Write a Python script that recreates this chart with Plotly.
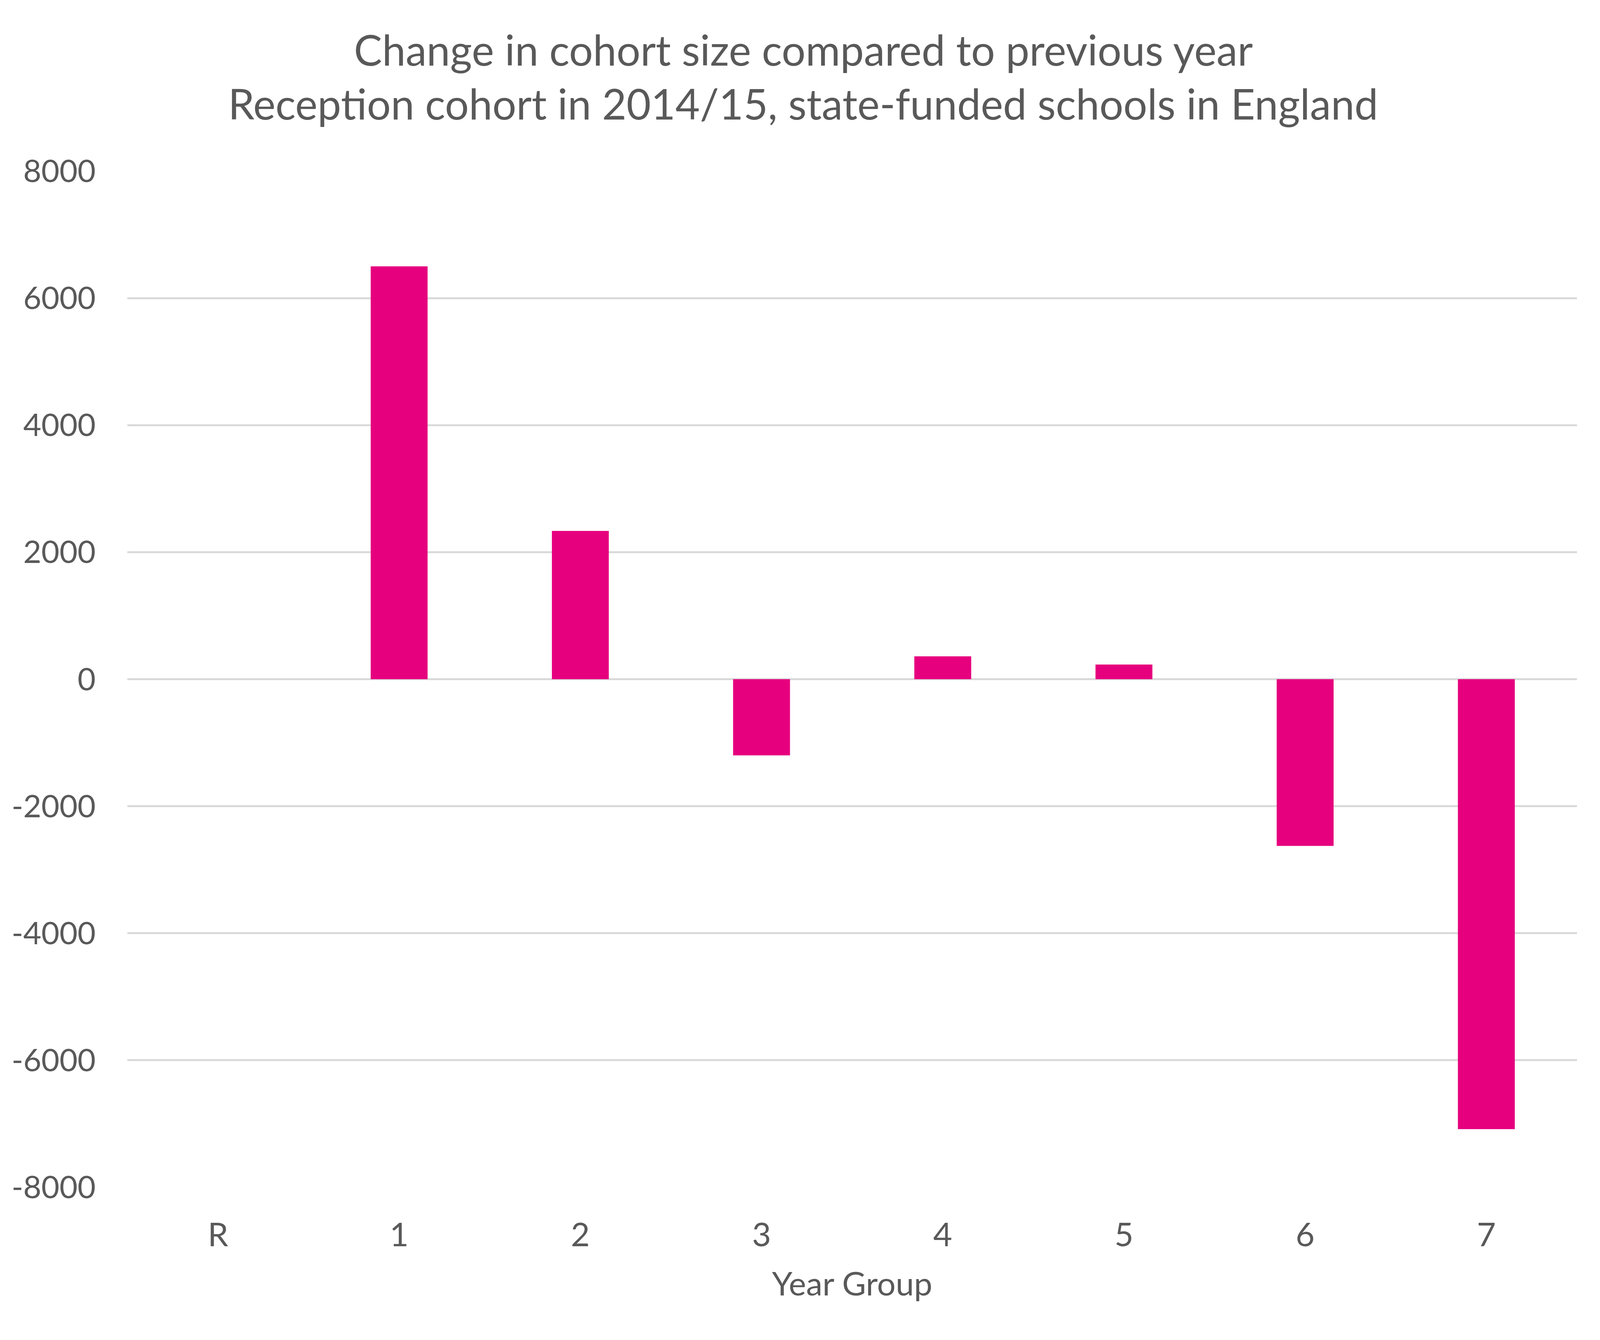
import plotly.graph_objects as go

# data
year_groups = ["R", "1", "2", "3", "4", "5", "6", "7"]
cohort_change = [0, 6500, 2335, -1200, 360, 230, -2625, -7085]
y_ticks = [8000, 6000, 4000, 2000, 0, -2000, -4000, -6000, -8000]
y_tick_labels = ["8000", "6000", "4000", "2000", "0", "-2000", "-4000", "-6000", "-8000"]
title_lines = [
    "Change in cohort size compared to previous year",
    "Reception cohort in 2014/15, state-funded schools in England",
]

# the browser viewport is 4096 wide, so the page is laid out at that width
W, H = 4096, 3430
ML, MR, MT, MB = 318, 67, 430, 399
text_grey = "#595959"
font_name = "Lato"

fig = go.Figure(go.Bar(
    x=year_groups,
    y=cohort_change,
    marker=dict(color="#E6007E", line=dict(width=0)),
    width=0.314,
))

fig.update_layout(
    width=W,
    height=H,
    paper_bgcolor="white",
    plot_bgcolor="white",
    showlegend=False,
    margin=dict(l=ML, r=MR, t=MT, b=MB, pad=0),
    font=dict(family=font_name, color=text_grey, size=84),
)

# two title lines as annotations, centred on the whole figure
plot_w = W - ML - MR
plot_h = H - MT - MB
for line, y_px in zip(title_lines, [118, 256]):
    fig.add_annotation(
        text=line,
        xref="paper", yref="paper",
        x=(W / 2 - ML) / plot_w,
        y=(H - MB - y_px) / plot_h,
        xanchor="center", yanchor="middle",
        showarrow=False,
        font=dict(family=font_name, size=108, color=text_grey),
    )

fig.update_xaxes(
    title=dict(text="Year Group", font=dict(size=84, color=text_grey), standoff=50),
    tickfont=dict(size=84, color=text_grey),
    ticklabelstandoff=66,
    showgrid=False,
    showline=False,
    ticks="",
)

fig.update_yaxes(
    range=[-8000, 8000],
    tickvals=y_ticks,
    ticktext=y_tick_labels,
    tickfont=dict(size=80, color=text_grey),
    ticklabelstandoff=80,
    showgrid=True,
    gridcolor="#D9D9D9",
    gridwidth=4.5,
    zeroline=True,
    zerolinecolor="#D9D9D9",
    zerolinewidth=4.5,
    showline=False,
    ticks="",
)

fig.write_html("out.html")
